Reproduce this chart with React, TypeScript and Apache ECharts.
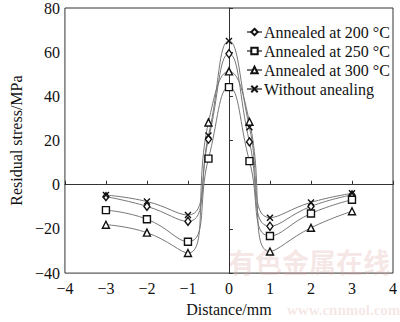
import React, { useEffect, useRef } from "react";
import * as echarts from "echarts";

const distances = [-3, -2, -1, -0.5, 0, 0.5, 1, 2, 3];
const annealed200 = [-5.4, -9.8, -16.6, 20.6, 59.3, 19.4, -18.8, -9.8, -4.6];
const annealed250 = [-11.5, -15.6, -25.8, 11.8, 44.2, 10.7, -23.2, -13.0, -6.8];
const annealed300 = [-18.1, -21.7, -30.9, 28.2, 51.3, 28.5, -30.2, -19.5, -12.0];
const withoutAnnealing = [-4.7, -7.6, -13.7, 22.3, 65.1, 26.0, -14.9, -8.0, -3.9];

const seriesNames = [
  "Annealed at 200 °C",
  "Annealed at 250 °C",
  "Annealed at 300 °C",
  "Without anealing",
];

const FONT = "Liberation Serif";
const minus = (v: number) => String(v).replace("-", "\u2212");

export default function App() {
  const ref = useRef<HTMLDivElement>(null);
  useEffect(() => {
    if (!ref.current) return;
    const chart = echarts.init(ref.current, undefined, { renderer: "svg" });
    const pair = (ys: number[]) => distances.map((x, i) => [x, ys[i]]);
    const mk = (name: string, ys: number[], symbol: string, size: any) => ({
      name,
      type: "line",
      data: pair(ys),
      smooth: 0.5,
      symbol,
      symbolSize: size,
      showAllSymbol: true,
      lineStyle: { color: "#777", width: 1 },
      itemStyle: { color: "#fff", borderColor: "#111", borderWidth: 1.4 },
      z: 3,
    });
    chart.setOption({
      animation: false,
      backgroundColor: "#fff",
      grid: {
        left: 53,
        right: 6,
        top: 5,
        bottom: 43,
        show: true,
        borderColor: "#333",
        borderWidth: 1,
        containLabel: false,
      },
      legend: {
        orient: "vertical",
        left: 241,
        top: 19,
        itemWidth: 15,
        itemHeight: 8,
        itemGap: 3,
        textStyle: { fontFamily: FONT, fontSize: 16, color: "#111", padding: [0, 0, 0, -3], lineHeight: 15 },
        data: seriesNames,
      },
      xAxis: {
        type: "value",
        min: -4,
        max: 4,
        interval: 1,
        name: "Distance/mm",
        nameLocation: "middle",
        nameGap: 27,
        nameTextStyle: { fontFamily: FONT, fontSize: 16, color: "#111" },
        axisLine: { lineStyle: { color: "#333", width: 1 } },
        axisTick: { inside: true, length: 4, lineStyle: { color: "#333" } },
        axisLabel: { fontFamily: FONT, fontSize: 16, color: "#111", margin: 7, formatter: minus },
        splitLine: { show: false },
      },
      yAxis: {
        type: "value",
        min: -40,
        max: 80,
        interval: 20,
        name: "Residual stress/MPa",
        nameLocation: "middle",
        nameGap: 34,
        nameTextStyle: { fontFamily: FONT, fontSize: 16, color: "#111" },
        axisLine: { show: true, lineStyle: { color: "#333", width: 1 } },
        axisTick: { show: true, inside: true, length: 4, lineStyle: { color: "#333" } },
        axisLabel: { fontFamily: FONT, fontSize: 16, color: "#111", margin: 5, formatter: minus },
        splitLine: { show: false },
      },
      graphic: [
        {
          type: "text",
          left: 228,
          top: 248,
          silent: true,
          z: 0,
          style: {
            text: "有色金属在线",
            font: "bold 27px 'Noto Sans CJK SC'",
            fill: "rgba(225,170,170,0.3)",
          },
        },
        {
          type: "text",
          left: 287,
          top: 302,
          silent: true,
          z: 0,
          style: {
            text: "www.cnnmol.com",
            font: "bold 15px 'Liberation Serif'",
            fill: "rgba(225,170,170,0.3)",
          },
        },
      ],
      series: [
        mk(seriesNames[0], annealed200, "diamond", [6, 8]),
        mk(seriesNames[1], annealed250, "rect", 7),
        mk(seriesNames[2], annealed300, "triangle", 7),
        mk(seriesNames[3], withoutAnnealing, "path://M0,0L8,8M8,0L0,8", 6),
      ],
    });
    return () => chart.dispose();
  }, []);
  return <div ref={ref} style={{ width: 400, height: 322, position: "absolute", left: 0, top: 0 }} />;
}
